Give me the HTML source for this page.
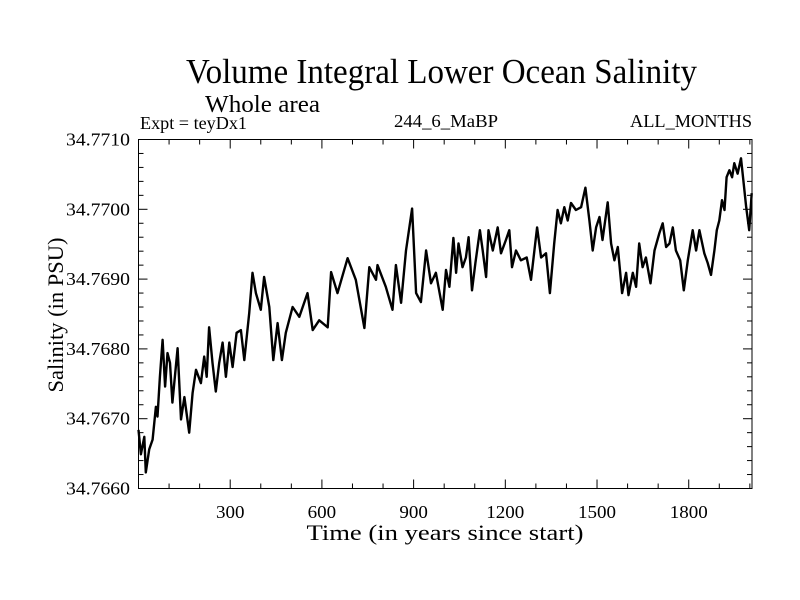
<!DOCTYPE html>
<html><head><meta charset="utf-8"><style>
html,body{margin:0;padding:0;background:#fff;}
svg{display:block;font-family:"Liberation Serif",serif;}
</style></head><body>
<svg id="chart" width="800" height="600" viewBox="0 0 800 600">
<text x="186" y="83" font-size="35" textLength="511" lengthAdjust="spacingAndGlyphs">Volume Integral Lower Ocean Salinity</text>
<text x="205" y="112" font-size="24" textLength="115" lengthAdjust="spacingAndGlyphs">Whole area</text>
<text x="140" y="129" font-size="18" textLength="107" lengthAdjust="spacingAndGlyphs">Expt = teyDx1</text>
<text x="394" y="127" font-size="18" textLength="104" lengthAdjust="spacingAndGlyphs">244_6_MaBP</text>
<text x="630" y="127" font-size="18" textLength="122" lengthAdjust="spacingAndGlyphs">ALL_MONTHS</text>
<text x="445" y="540" font-size="22" text-anchor="middle" textLength="277" lengthAdjust="spacingAndGlyphs">Time (in years since start)</text>
<text transform="translate(63,315) rotate(-90)" font-size="22" text-anchor="middle" textLength="155" lengthAdjust="spacingAndGlyphs">Salinity (in PSU)</text>
<g id="axes"></g>
<g id="series"></g>
<rect x="138.5" y="139.5" width="613.5" height="349" fill="none" stroke="#000" stroke-width="1"/>
</svg>
<script>
const years=[0,8,19,24,35,46,57,62,70,79,87,95,103,111,128,139,150,166,177,188,204,215,223,231,242,253,264,275,286,297,308,321,335,346,362,373,384,400,411,428,441,455,469,482,504,526,553,570,591,619,630,651,684,711,739,755,777,782,809,831,842,859,875,895,908,924,941,957,973,995,1006,1017,1030,1039,1047,1060,1071,1080,1091,1102,1117,1126,1137,1145,1159,1175,1186,1202,1213,1222,1235,1251,1270,1284,1295,1304,1317,1333,1346,1360,1371,1382,1393,1404,1415,1431,1448,1462,1475,1486,1497,1508,1518,1535,1546,1557,1568,1582,1595,1603,1617,1628,1638,1649,1660,1675,1688,1704,1715,1726,1737,1748,1758,1772,1784,1797,1813,1824,1835,1851,1862,1873,1884,1892,1900,1909,1917,1924,1933,1942,1949,1960,1971,1979,1988,1998,2006];
const salinity=[34.76684,34.76649,34.76674,34.76623,34.76656,34.76670,34.76717,34.76703,34.76760,34.76813,34.76746,34.76794,34.76780,34.76723,34.76801,34.76699,34.76731,34.76680,34.76737,34.76770,34.76751,34.76789,34.76760,34.76831,34.76780,34.76739,34.76780,34.76809,34.76760,34.76809,34.76774,34.76823,34.76827,34.76784,34.76851,34.76909,34.76880,34.76856,34.76903,34.76860,34.76784,34.76837,34.76784,34.76823,34.76860,34.76846,34.76880,34.76827,34.76841,34.76831,34.76910,34.76880,34.76930,34.76899,34.76830,34.76917,34.76899,34.76920,34.76889,34.76856,34.76920,34.76866,34.76941,34.77001,34.76880,34.76867,34.76941,34.76894,34.76909,34.76856,34.76913,34.76889,34.76959,34.76909,34.76951,34.76917,34.76931,34.76960,34.76884,34.76923,34.76970,34.76941,34.76903,34.76970,34.76941,34.76974,34.76937,34.76956,34.76970,34.76917,34.76941,34.76927,34.76931,34.76899,34.76941,34.76974,34.76931,34.76937,34.76880,34.76951,34.76999,34.76980,34.77003,34.76984,34.77009,34.76999,34.77003,34.77031,34.76984,34.76941,34.76974,34.76989,34.76956,34.77010,34.76951,34.76927,34.76946,34.76880,34.76909,34.76877,34.76909,34.76889,34.76951,34.76917,34.76931,34.76894,34.76941,34.76966,34.76980,34.76946,34.76951,34.76974,34.76941,34.76927,34.76884,34.76927,34.76970,34.76941,34.76970,34.76937,34.76923,34.76906,34.76941,34.76970,34.76984,34.77013,34.76999,34.77046,34.77056,34.77046,34.77066,34.77051,34.77073,34.77041,34.77003,34.76970,34.77023];
const xTicks=[300,600,900,1200,1500,1800];
const yTicks=[34.766,34.767,34.768,34.769,34.770,34.771];
const yTickLabels=["34.7660","34.7670","34.7680","34.7690","34.7700","34.7710"];
const X0=138.5,X1=752,Y0=488.5,Y1=139.5,XMIN=0,XMAX=2007,YMIN=34.766,YMAX=34.771;
const sx=v=>X0+(v-XMIN)/(XMAX-XMIN)*(X1-X0);
const sy=v=>Y0-(v-YMIN)/(YMAX-YMIN)*(Y0-Y1);
const NS="http://www.w3.org/2000/svg";
const axes=document.getElementById('axes');
function ln(x1,y1,x2,y2,name){const l=document.createElementNS(NS,'line');l.setAttribute('x1',x1);l.setAttribute('y1',y1);l.setAttribute('x2',x2);l.setAttribute('y2',y2);l.setAttribute('stroke','#000');


axes.appendChild(l);}
for(let t=100;t<XMAX;t+=100){const x=sx(t);const major=t%300===0;const L=major?9:5;ln(x,Y0,x,Y0-L,'x-tick');ln(x,Y1,x,Y1+L,'x-tick');}
for(let k=1;k<25;k++){const v=YMIN+k*0.0002;const y=sy(v);const major=k%5===0;const L=major?9:5;ln(X0,y,X0+L,y,'y-tick');ln(X1,y,X1-L,y,'y-tick');}
xTicks.forEach(t=>{const tx=document.createElementNS(NS,'text');tx.setAttribute('x',sx(t));tx.setAttribute('y',518);tx.setAttribute('font-size','18');tx.setAttribute('text-anchor','middle');tx.setAttribute('textLength',String(t).length*9.5);tx.setAttribute('lengthAdjust','spacingAndGlyphs');tx.textContent=t;


axes.appendChild(tx);});
yTicks.forEach((v,i)=>{const tx=document.createElementNS(NS,'text');tx.setAttribute('x',130);tx.setAttribute('y',sy(v)+6);tx.setAttribute('font-size','18');tx.setAttribute('text-anchor','end');tx.setAttribute('textLength','64');tx.setAttribute('lengthAdjust','spacingAndGlyphs');tx.textContent=yTickLabels[i];


axes.appendChild(tx);});
const p=document.createElementNS(NS,'path');
p.setAttribute('d',years.map((y,i)=>(i?'L':'M')+sx(y).toFixed(1)+','+sy(salinity[i]).toFixed(1)).join(''));
p.setAttribute('fill','none');p.setAttribute('stroke','#000');p.setAttribute('stroke-width','2.4');p.setAttribute('stroke-linejoin','round');


document.getElementById('series').appendChild(p);
</script>
</body></html>
